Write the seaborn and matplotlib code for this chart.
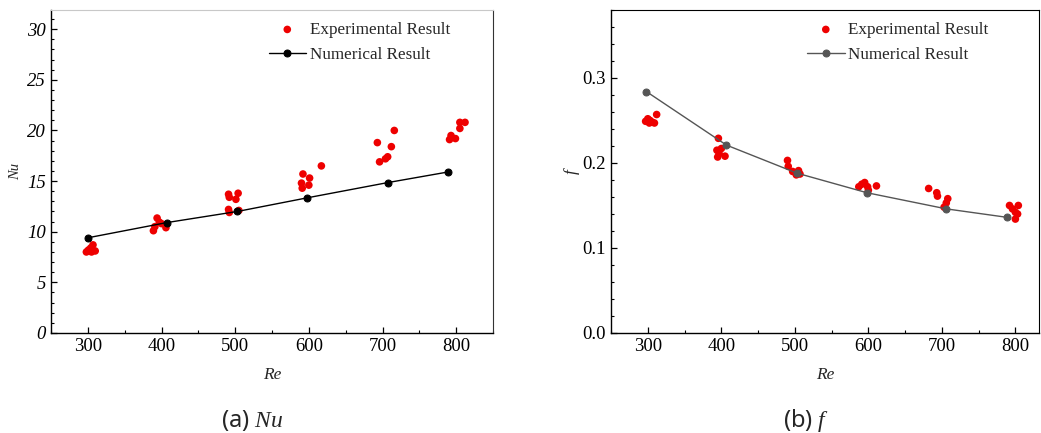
import matplotlib
matplotlib.use("Agg")
import matplotlib.pyplot as plt
import seaborn as sns
import pandas as pd
from matplotlib.ticker import MultipleLocator

# ---------------- data ----------------
# Nu (left)
nu_num_re = [300, 407, 503, 598, 707, 789]
nu_num = [9.4, 10.9, 12.0, 13.35, 14.85, 15.9]

nu_exp_re = [298, 301, 304, 307, 310, 300, 305,
             389, 391, 394, 397, 400, 406,
             491, 492, 504, 501, 491, 492, 505,
             590, 592, 591, 600, 601, 617,
             693, 696, 704, 707, 712, 716,
             791, 793, 799, 805, 805, 812]
nu_exp = [8.0, 8.2, 8.4, 8.7, 8.1, 8.1, 8.0,
          10.1, 10.5, 11.35, 10.95, 10.8, 10.4,
          13.7, 13.4, 13.8, 13.2, 12.2, 11.9, 12.1,
          14.8, 15.7, 14.3, 14.6, 15.3, 16.5,
          18.8, 16.9, 17.2, 17.4, 18.4, 20.0,
          19.1, 19.5, 19.2, 20.2, 20.8, 20.8]

# f (right)
f_num_re = [298, 407, 503, 598, 706, 789]
f_num = [0.284, 0.221, 0.188, 0.165, 0.146, 0.136]

f_exp_re = [297, 300, 303, 306, 309, 312, 302,
            394, 395, 396, 397, 400, 405,
            490, 491, 497, 505, 507, 502,
            587, 591, 595, 599, 600, 611,
            682, 693, 694, 703, 706, 708,
            792, 796, 800, 800, 803, 804]
f_exp = [0.249, 0.252, 0.250, 0.248, 0.247, 0.257, 0.247,
         0.215, 0.207, 0.229, 0.211, 0.217, 0.208,
         0.203, 0.196, 0.190, 0.191, 0.187, 0.186,
         0.172, 0.175, 0.177, 0.172, 0.168, 0.173,
         0.170, 0.165, 0.161, 0.148, 0.153, 0.158,
         0.150, 0.146, 0.142, 0.134, 0.140, 0.150]

# ---------------- style ----------------
sns.set_style("white")
plt.rcParams["font.family"] = ["Liberation Serif", "DejaVu Serif"]
plt.rcParams["mathtext.fontset"] = "custom"
plt.rcParams["mathtext.it"] = "Liberation Serif:italic"
plt.rcParams["mathtext.rm"] = "Liberation Serif"

fig = plt.figure(figsize=(10.41, 4.33), dpi=100)
ax1 = fig.add_axes([0.049, 0.231, 0.4246, 0.746])
ax2 = fig.add_axes([0.587, 0.231, 0.411, 0.746])

TICK_FS = 13.5
LEG_FS = 12.3


def style_axes(ax):
    ax.tick_params(axis="both", which="both", direction="in", labelsize=TICK_FS,
                   colors="black", left=True, bottom=True)
    ax.tick_params(which="major", length=4, width=0.9)
    ax.tick_params(which="minor", length=2, width=0.8)
    ax.xaxis.set_major_locator(MultipleLocator(100))
    ax.xaxis.set_minor_locator(MultipleLocator(50))
    for s in ["left", "bottom"]:
        ax.spines[s].set_color("black")
        ax.spines[s].set_linewidth(1.0)


# ---------- left: Nu ----------
sns.scatterplot(x=nu_exp_re, y=nu_exp, ax=ax1, color="#ee0000", s=30,
                edgecolor="none", label="Experimental Result", zorder=3)
sns.lineplot(x=nu_num_re, y=nu_num, ax=ax1, color="black", lw=1.0,
             marker="o", markersize=5, markeredgecolor="black",
             label="Numerical Result", zorder=4, sort=True)
ax1.set_xlim(250, 850)
ax1.set_ylim(0, 31.9)
ax1.yaxis.set_major_locator(MultipleLocator(5))
ax1.yaxis.set_minor_locator(MultipleLocator(1))
style_axes(ax1)
for lab in ax1.get_yticklabels():
    lab.set_fontstyle("italic")
ax1.spines["top"].set_color("#c8c8c8")
ax1.spines["right"].set_color("#333333")
ax1.set_xlabel("Re", fontstyle="italic", fontsize=12.5, labelpad=9)
ax1.set_ylabel("Nu", fontstyle="italic", fontsize=10.5, labelpad=4)
ax1.legend(loc="upper left", bbox_to_anchor=(0.465, 1.0), frameon=False,
           fontsize=LEG_FS, handlelength=2.2, labelspacing=0.55,
           handletextpad=0.2, borderaxespad=0.3)

# ---------- right: f ----------
sns.scatterplot(x=f_exp_re, y=f_exp, ax=ax2, color="#ee0000", s=30,
                edgecolor="none", label="Experimental Result", zorder=3)
sns.lineplot(x=f_num_re, y=f_num, ax=ax2, color="#555555", lw=1.0,
             marker="o", markersize=5, markeredgecolor="#555555",
             label="Numerical Result", zorder=4, sort=True)
ax2.set_xlim(250, 832)
ax2.set_ylim(0, 0.38)
ax2.yaxis.set_major_locator(MultipleLocator(0.1))
ax2.yaxis.set_minor_locator(MultipleLocator(0.02))
ax2.yaxis.set_major_formatter(matplotlib.ticker.FormatStrFormatter("%.1f"))
style_axes(ax2)
ax2.spines["top"].set_color("black")
ax2.spines["right"].set_color("black")
ax2.set_xlabel("Re", fontstyle="italic", fontsize=12.5, labelpad=9)
ax2.set_ylabel("f", fontstyle="italic", fontsize=12.5, labelpad=2)
ax2.legend(loc="upper left", bbox_to_anchor=(0.43, 1.0), frameon=False,
           fontsize=LEG_FS, handlelength=2.2, labelspacing=0.55,
           handletextpad=0.2, borderaxespad=0.3)

# ---------- captions ----------
fig.text(0.242, 0.03, "(a) $\\mathit{Nu}$", ha="center", va="center",
         fontsize=17, family=["Noto Sans", "DejaVu Sans"])
fig.text(0.774, 0.03, "(b) $\\mathit{f}$", ha="center", va="center",
         fontsize=17, family=["Noto Sans", "DejaVu Sans"])

fig.savefig("out.png", dpi=100)
